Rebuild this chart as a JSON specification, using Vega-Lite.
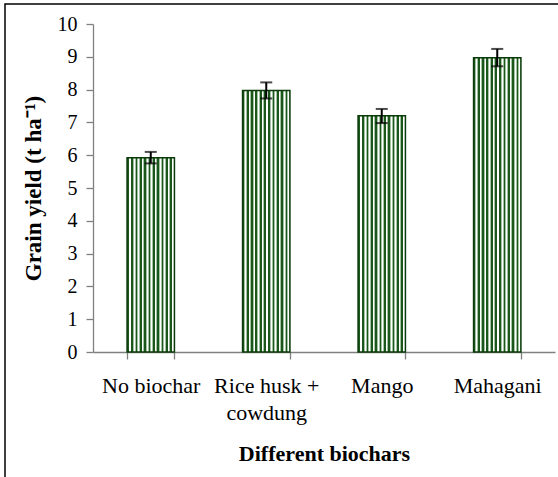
{
  "$schema": "https://vega.github.io/schema/vega-lite/v6.json",
  "width": 556,
  "height": 476,
  "autosize": {"type": "none"},
  "padding": {"left": 5, "top": 4, "right": -3, "bottom": -3},
  "background": "white",
  "config": {
    "view": {"stroke": "black", "strokeWidth": 1.5},
    "font": "Liberation Serif",
    "axis": {"labelFont": "Liberation Serif", "titleFont": "Liberation Serif", "labelColor": "black", "titleColor": "black"},
    "axisY": {
      "labelFont": "Liberation Serif",
      "labelFontSize": 20,
      "labelPadding": 9,
      "labelOverlap": false,
      "titleFontSize": 23,
      "titleFontWeight": "bold",
      "titlePadding": 12
    }
  },
  "data": {
    "values": [
      {"biochar": "No biochar", "yield": 5.92, "lo": 5.75, "hi": 6.10},
      {"biochar": "Rice husk + cowdung", "yield": 7.97, "lo": 7.73, "hi": 8.22},
      {"biochar": "Mango", "yield": 7.20, "lo": 6.98, "hi": 7.41},
      {"biochar": "Mahagani", "yield": 8.97, "lo": 8.71, "hi": 9.24}
    ]
  },
  "encoding": {
    "x": {
      "field": "biochar",
      "type": "nominal",
      "sort": null,
      "scale": {"range": [88, 550], "paddingInner": 0.59, "paddingOuter": 0.295},
      "axis": {
        "title": "Different biochars",
        "titleFont": "Liberation Serif",
        "titleFontSize": 22,
        "titleFontWeight": "bold",
        "titleColor": "black",
        "titlePadding": 20,
        "offset": -128,
        "labelAngle": 0,
        "labelFont": "Liberation Serif",
        "labelFontSize": 22,
        "labelColor": "black",
        "labelPadding": 16,
        "labelLineHeight": 27,
        "labelExpr": "datum.label == 'Rice husk + cowdung' ? ['Rice husk +', 'cowdung'] : datum.label",
        "ticks": true,
        "tickBand": "extent",
        "tickSize": 7,
        "tickColor": "#808080",
        "tickWidth": 1.3,
        "domainColor": "#808080",
        "domainWidth": 1.3,
        "grid": false
      }
    }
  },
  "layer": [
    {
      "mark": {
        "type": "bar",
        "stroke": "#0b3b0b",
        "strokeWidth": 1.5,
        "fill": {
          "gradient": "linear",
          "x1": 0, "y1": 0, "x2": 1, "y2": 0,
          "stops": [
            {"offset": 0, "color": "#1b561b"}, {"offset": 0.0364, "color": "#1b561b"}, {"offset": 0.0364, "color": "#a3c2a3"}, {"offset": 0.05, "color": "#a3c2a3"}, {"offset": 0.05, "color": "#ffffff"}, {"offset": 0.0727, "color": "#ffffff"}, {"offset": 0.0727, "color": "#a3c2a3"}, {"offset": 0.0909, "color": "#a3c2a3"},
            {"offset": 0.0909, "color": "#1b561b"}, {"offset": 0.1273, "color": "#1b561b"}, {"offset": 0.1273, "color": "#a3c2a3"}, {"offset": 0.1409, "color": "#a3c2a3"}, {"offset": 0.1409, "color": "#ffffff"}, {"offset": 0.1636, "color": "#ffffff"}, {"offset": 0.1636, "color": "#a3c2a3"}, {"offset": 0.1818, "color": "#a3c2a3"},
            {"offset": 0.1818, "color": "#1b561b"}, {"offset": 0.2182, "color": "#1b561b"}, {"offset": 0.2182, "color": "#a3c2a3"}, {"offset": 0.2318, "color": "#a3c2a3"}, {"offset": 0.2318, "color": "#ffffff"}, {"offset": 0.2545, "color": "#ffffff"}, {"offset": 0.2545, "color": "#a3c2a3"}, {"offset": 0.2727, "color": "#a3c2a3"},
            {"offset": 0.2727, "color": "#1b561b"}, {"offset": 0.3091, "color": "#1b561b"}, {"offset": 0.3091, "color": "#a3c2a3"}, {"offset": 0.3227, "color": "#a3c2a3"}, {"offset": 0.3227, "color": "#ffffff"}, {"offset": 0.3455, "color": "#ffffff"}, {"offset": 0.3455, "color": "#a3c2a3"}, {"offset": 0.3636, "color": "#a3c2a3"},
            {"offset": 0.3636, "color": "#1b561b"}, {"offset": 0.4, "color": "#1b561b"}, {"offset": 0.4, "color": "#a3c2a3"}, {"offset": 0.4136, "color": "#a3c2a3"}, {"offset": 0.4136, "color": "#ffffff"}, {"offset": 0.4364, "color": "#ffffff"}, {"offset": 0.4364, "color": "#a3c2a3"}, {"offset": 0.4545, "color": "#a3c2a3"},
            {"offset": 0.4545, "color": "#1b561b"}, {"offset": 0.4909, "color": "#1b561b"}, {"offset": 0.4909, "color": "#a3c2a3"}, {"offset": 0.5045, "color": "#a3c2a3"}, {"offset": 0.5045, "color": "#ffffff"}, {"offset": 0.5273, "color": "#ffffff"}, {"offset": 0.5273, "color": "#a3c2a3"}, {"offset": 0.5455, "color": "#a3c2a3"},
            {"offset": 0.5455, "color": "#1b561b"}, {"offset": 0.5818, "color": "#1b561b"}, {"offset": 0.5818, "color": "#a3c2a3"}, {"offset": 0.5955, "color": "#a3c2a3"}, {"offset": 0.5955, "color": "#ffffff"}, {"offset": 0.6182, "color": "#ffffff"}, {"offset": 0.6182, "color": "#a3c2a3"}, {"offset": 0.6364, "color": "#a3c2a3"},
            {"offset": 0.6364, "color": "#1b561b"}, {"offset": 0.6727, "color": "#1b561b"}, {"offset": 0.6727, "color": "#a3c2a3"}, {"offset": 0.6864, "color": "#a3c2a3"}, {"offset": 0.6864, "color": "#ffffff"}, {"offset": 0.7091, "color": "#ffffff"}, {"offset": 0.7091, "color": "#a3c2a3"}, {"offset": 0.7273, "color": "#a3c2a3"},
            {"offset": 0.7273, "color": "#1b561b"}, {"offset": 0.7636, "color": "#1b561b"}, {"offset": 0.7636, "color": "#a3c2a3"}, {"offset": 0.7773, "color": "#a3c2a3"}, {"offset": 0.7773, "color": "#ffffff"}, {"offset": 0.8, "color": "#ffffff"}, {"offset": 0.8, "color": "#a3c2a3"}, {"offset": 0.8182, "color": "#a3c2a3"},
            {"offset": 0.8182, "color": "#1b561b"}, {"offset": 0.8545, "color": "#1b561b"}, {"offset": 0.8545, "color": "#a3c2a3"}, {"offset": 0.8682, "color": "#a3c2a3"}, {"offset": 0.8682, "color": "#ffffff"}, {"offset": 0.8909, "color": "#ffffff"}, {"offset": 0.8909, "color": "#a3c2a3"}, {"offset": 0.9091, "color": "#a3c2a3"},
            {"offset": 0.9091, "color": "#1b561b"}, {"offset": 0.9455, "color": "#1b561b"}, {"offset": 0.9455, "color": "#a3c2a3"}, {"offset": 0.9591, "color": "#a3c2a3"}, {"offset": 0.9591, "color": "#ffffff"}, {"offset": 0.9818, "color": "#ffffff"}, {"offset": 0.9818, "color": "#a3c2a3"}, {"offset": 1, "color": "#a3c2a3"}
          ]
        }
      },
      "encoding": {
        "y": {
          "field": "yield",
          "type": "quantitative",
          "scale": {"domain": [0, 10], "nice": false, "range": [348, 20]},
          "axis": {
            "title": "Grain yield (t ha⁻¹)",
            "offset": -88,
            "values": [0, 1, 2, 3, 4, 5, 6, 7, 8, 9, 10],
            "ticks": true,
            "tickSize": 7,
            "tickColor": "#808080",
            "tickWidth": 1.3,
            "domainColor": "#808080",
            "domainWidth": 1.3,
            "grid": false
          }
        }
      }
    },
    {
      "mark": {"type": "rule", "color": "black", "strokeWidth": 2},
      "encoding": {
        "y": {"field": "lo", "type": "quantitative"},
        "y2": {"field": "hi"}
      }
    },
    {
      "mark": {"type": "tick", "color": "black", "size": 12, "thickness": 2},
      "encoding": {"y": {"field": "lo", "type": "quantitative"}}
    },
    {
      "mark": {"type": "tick", "color": "black", "size": 12, "thickness": 2},
      "encoding": {"y": {"field": "hi", "type": "quantitative"}}
    }
  ]
}
